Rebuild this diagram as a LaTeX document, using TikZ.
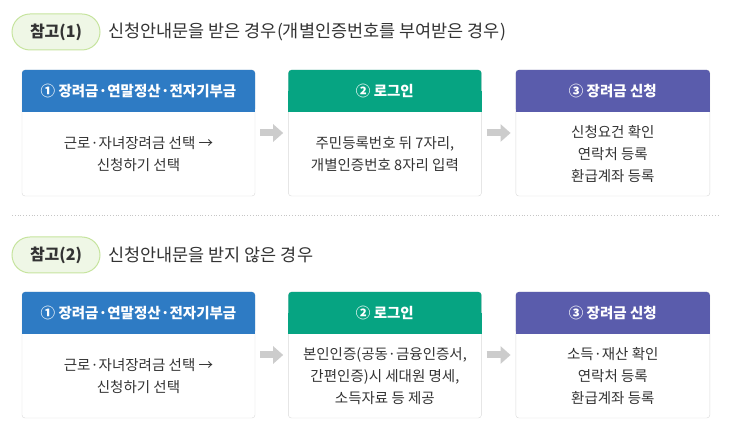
\documentclass[tikz,border=0pt]{standalone}
\usepackage{fontspec}
\setmainfont{Noto Sans CJK KR}
\usepackage{tikz}
\usetikzlibrary{positioning, arrows.meta}
\definecolor{stepblue}{HTML}{2E7BC4}
\definecolor{stepgreen}{HTML}{06A482}
\definecolor{steppurple}{HTML}{5A5CAC}
\definecolor{pillfill}{HTML}{EFF7E6}
\definecolor{pillline}{HTML}{C6E49E}
\definecolor{textgray}{HTML}{333333}
\tikzset{
x=1pt, y=1pt, % one unit is one pixel of the page
frame/.style={draw=gray!30, rounded corners=3pt, minimum height=126pt, inner sep=0pt}, % outline of one step
head/.style={text=white, font=\bfseries\fontsize{14.5}{16}\selectfont, rounded corners=3pt, minimum height=42pt, inner sep=0pt}, % coloured title bar
body/.style={text=textgray, align=center, font=\fontsize{14.5}{22}\selectfont, minimum height=84pt, inner sep=0pt}, % text below the bar
pill/.style={fill=pillfill, draw=pillline, line width=1pt, rounded corners=18pt, minimum width=88pt, minimum height=36pt, text=textgray, font=\bfseries\fontsize{16}{18}\selectfont}, % the round label
heading/.style={anchor=west, text=textgray, font=\fontsize{17.5}{18}\selectfont, inner sep=0pt}, % text next to the label
next/.style={draw=gray!40, line width=7pt, -{Triangle[length=10pt,width=17pt]}, shorten <=5pt, shorten >=5pt}, % grey arrow between steps
}

\begin{document}
\begin{tikzpicture}
    \useasboundingbox (0,0) rectangle (731,428);
    % first case
    \node[pill] (p1) at (56,396) {참고(1)};
    \node[heading] (t1) at (108,396) {신청안내문을 받은 경우(개별인증번호를 부여받은 경우)};
    \node[frame, minimum width=233pt] (f1) at (138.5,295) {};
    \node[frame, minimum width=193pt, right=33pt of f1] (f2) {};
    \node[frame, minimum width=194pt, right=34pt of f2] (f3) {};
    \fill[stepblue] ([yshift=-42pt]f1.north west) rectangle ([yshift=-21pt]f1.north east);
    \fill[stepgreen] ([yshift=-42pt]f2.north west) rectangle ([yshift=-21pt]f2.north east);
    \fill[steppurple] ([yshift=-42pt]f3.north west) rectangle ([yshift=-21pt]f3.north east);
    \node[head, fill=stepblue, minimum width=233pt, below=0pt of f1.north] (h1) {① 장려금·연말정산·전자기부금};
    \node[head, fill=stepgreen, minimum width=193pt, below=0pt of f2.north] (h2) {② 로그인};
    \node[head, fill=steppurple, minimum width=194pt, below=0pt of f3.north] (h3) {③ 장려금 신청};
    \node[body, below=0pt of h1] (b1) {근로·자녀장려금 선택 →\\신청하기 선택};
    \node[body, below=0pt of h2] (b2) {주민등록번호 뒤 7자리,\\개별인증번호 8자리 입력};
    \node[body, below=0pt of h3] (b3) {신청요건 확인\\연락처 등록\\환급계좌 등록};
    \draw[next] (f1) -- (f2);
    \draw[next] (f2) -- (f3);

    \draw[gray!45, dotted, line width=0.8pt] (12,213) -- (720,213);

    % second case
    \node[pill] (p2) at (56,173) {참고(2)};
    \node[heading] (t2) at (108,173) {신청안내문을 받지 않은 경우};
    \node[frame, minimum width=233pt] (g1) at (138.5,73) {};
    \node[frame, minimum width=193pt, right=33pt of g1] (g2) {};
    \node[frame, minimum width=194pt, right=34pt of g2] (g3) {};
    \fill[stepblue] ([yshift=-42pt]g1.north west) rectangle ([yshift=-21pt]g1.north east);
    \fill[stepgreen] ([yshift=-42pt]g2.north west) rectangle ([yshift=-21pt]g2.north east);
    \fill[steppurple] ([yshift=-42pt]g3.north west) rectangle ([yshift=-21pt]g3.north east);
    \node[head, fill=stepblue, minimum width=233pt, below=0pt of g1.north] (k1) {① 장려금·연말정산·전자기부금};
    \node[head, fill=stepgreen, minimum width=193pt, below=0pt of g2.north] (k2) {② 로그인};
    \node[head, fill=steppurple, minimum width=194pt, below=0pt of g3.north] (k3) {③ 장려금 신청};
    \node[body, below=0pt of k1] (c1) {근로·자녀장려금 선택 →\\신청하기 선택};
    \node[body, below=0pt of k2] (c2) {본인인증(공동·금융인증서,\\간편인증)시 세대원 명세,\\소득자료 등 제공};
    \node[body, below=0pt of k3] (c3) {소득·재산 확인\\연락처 등록\\환급계좌 등록};
    \draw[next] (g1) -- (g2);
    \draw[next] (g2) -- (g3);
\end{tikzpicture}
\end{document}
